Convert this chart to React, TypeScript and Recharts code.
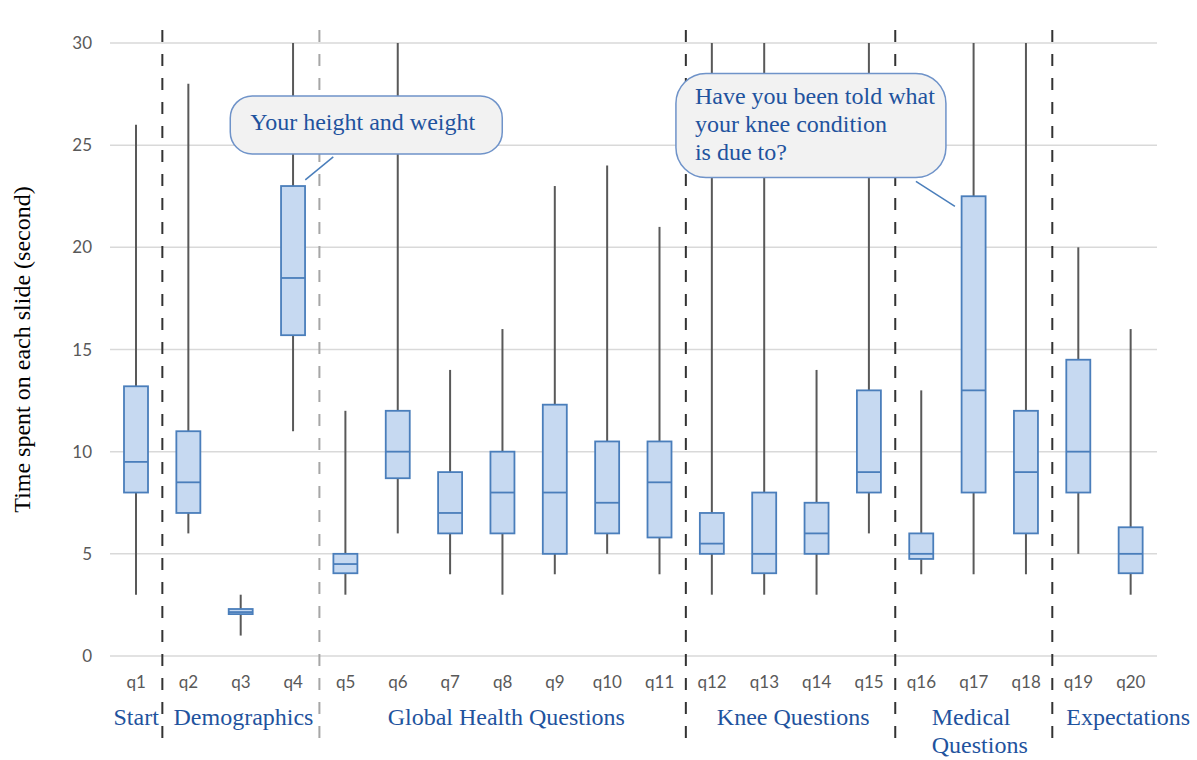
import React from 'react';
import { ComposedChart, Bar, XAxis, YAxis, CartesianGrid, ReferenceLine, ReferenceDot } from 'recharts';

const questions = ['q1','q2','q3','q4','q5','q6','q7','q8','q9','q10','q11','q12','q13','q14','q15','q16','q17','q18','q19','q20'];
const mins    = [3, 6, 1, 11, 3, 6, 4, 3, 4, 5, 4, 3, 3, 3, 6, 4, 4, 4, 5, 3];
const q1s     = [8, 7, 2.05, 15.7, 4.05, 8.7, 6, 6, 5, 6, 5.8, 5, 4.05, 5, 8, 4.75, 8, 6, 8, 4.05];
const medians = [9.5, 8.5, 2.15, 18.5, 4.5, 10, 7, 8, 8, 7.5, 8.5, 5.5, 5, 6, 9, 5, 13, 9, 10, 5];
const q3s     = [13.2, 11, 2.3, 23, 5, 12, 9, 10, 12.3, 10.5, 10.5, 7, 8, 7.5, 13, 6, 22.5, 12, 14.5, 6.3];
const maxs    = [26, 28, 3, 30, 12, 30, 14, 16, 23, 24, 21, 30, 30, 14, 30, 13, 30, 30, 20, 16];

const yTicks = [0, 5, 10, 15, 20, 25, 30];
const separators = [1.5, 4.5, 11.5, 15.5, 18.5];
const separatorColors = ['#333333', '#a6a6a6', '#333333', '#333333', '#333333'];
const groupLabels = ['Start', 'Demographics', 'Global Health Questions', 'Knee Questions', 'Medical Questions', 'Expectations'];
const groupCenters = [1, 3.05, 8.07, 13.55, 17, 19.95];

const data = questions.map((q, i) => ({
  x: i + 1,
  name: q,
  min: mins[i],
  q1: q1s[i],
  median: medians[i],
  q3: q3s[i],
  max: maxs[i],
}));

const BLUE_TEXT = '#1f539e';
const BOX_STROKE = '#4a7ebb';
const BOX_FILL = '#c6d9f1';
const WHISKER = '#595959';
const SERIF = '"Liberation Serif", "DejaVu Serif", serif';
const SANS = 'Lato, "Open Sans", sans-serif';
const SERIF_SIZE = 24;

const BoxShape = (props: any) => {
  const { x, y, width, height, payload } = props;
  const top = Math.min(y, y + height);
  const h = Math.abs(height);
  const span = payload.max - payload.min;
  const py = (v: number) => top + (h * (payload.max - v)) / span;
  const cx = x + width / 2;
  return (
    <g>
      <line x1={cx} x2={cx} y1={py(payload.max)} y2={py(payload.q3)} stroke={WHISKER} strokeWidth={2} />
      <line x1={cx} x2={cx} y1={py(payload.q1)} y2={py(payload.min)} stroke={WHISKER} strokeWidth={2} />
      <rect x={x} y={py(payload.q3)} width={width} height={py(payload.q1) - py(payload.q3)} fill={BOX_FILL} stroke={BOX_STROKE} strokeWidth={1.8} />
      <line x1={x} x2={x + width} y1={py(payload.median)} y2={py(payload.median)} stroke={BOX_STROKE} strokeWidth={1.8} />
    </g>
  );
};

const SeparatorShape = (color: string) => (props: any) => {
  const { x1, y1, y2 } = props;
  const top = Math.min(y1, y2);
  const bottom = Math.max(y1, y2);
  return (
    <line x1={x1} x2={x1} y1={top - 13} y2={bottom + 89} stroke={color} strokeWidth={2} strokeDasharray="12 12" />
  );
};

const GroupTick = (props: any) => {
  const { x, y, index } = props;
  const label = groupLabels[index];
  if (label === 'Medical Questions') {
    return (
      <text x={x - 42} y={y + 29} textAnchor="start" fill={BLUE_TEXT} fontFamily={SERIF} fontSize={SERIF_SIZE}>
        <tspan x={x - 42} y={y + 29}>Medical</tspan>
        <tspan x={x - 42} y={y + 57}>Questions</tspan>
      </text>
    );
  }
  return (
    <text x={x} y={y + 29} textAnchor="middle" fill={BLUE_TEXT} fontFamily={SERIF} fontSize={SERIF_SIZE}>
      {label}
    </text>
  );
};

const Callout1 = (props: any) => {
  const { cx, cy } = props;
  return (
    <g>
      <line x1={cx} y1={cy} x2={cx + 28} y2={cy - 23} stroke={BOX_STROKE} strokeWidth={1.5} />
      <rect x={cx - 75} y={cy - 84} width={272} height={58} rx={22} ry={22} fill="#f2f2f2" stroke="#6f93c9" strokeWidth={1.5} />
      <text x={cx - 55} y={cy - 50} fill={BLUE_TEXT} fontFamily={SERIF} fontSize={SERIF_SIZE}>Your height and weight</text>
    </g>
  );
};

const Callout2 = (props: any) => {
  const { cx, cy } = props;
  return (
    <g>
      <line x1={cx} y1={cy} x2={cx - 39} y2={cy - 25} stroke={BOX_STROKE} strokeWidth={1.5} />
      <rect x={cx - 279} y={cy - 133} width={270} height={104} rx={30} ry={30} fill="#f2f2f2" stroke="#6f93c9" strokeWidth={1.5} />
      <text fill={BLUE_TEXT} fontFamily={SERIF} fontSize={SERIF_SIZE}>
        <tspan x={cx - 260} y={cy - 102}>Have you been told what</tspan>
        <tspan x={cx - 260} y={cy - 74}>your knee condition</tspan>
        <tspan x={cx - 260} y={cy - 46}>is due to?</tspan>
      </text>
    </g>
  );
};

const YLabel = (props: any) => {
  const vb = props.viewBox || {};
  const cy = (vb.y || 43) + (vb.height || 613) / 2;
  return (
    <text x={30} y={cy} transform={`rotate(-90 30 ${cy})`} textAnchor="middle" fill="#000" fontFamily={SERIF} fontSize={SERIF_SIZE}>
      Time spent on each slide (second)
    </text>
  );
};

export default function App() {
  return (
    <div style={{ position: 'absolute', left: 0, top: 0, width: 1197, height: 760, background: '#fff' }}>
      <ComposedChart width={1197} height={760} data={data} margin={{ top: 43, right: 40, bottom: 0, left: 0 }}>
        <CartesianGrid horizontal vertical={false} stroke="#d9d9d9" strokeWidth={1.5} />
        <XAxis
          dataKey="x"
          type="number"
          domain={[0.5, 20.5]}
          ticks={data.map(d => d.x)}
          interval={0}
          tickFormatter={(v: number) => questions[v - 1]}
          axisLine={false}
          tickLine={false}
          tickSize={0}
          tickMargin={20}
          height={40}
          tick={{ fill: '#595959', fontFamily: SANS, fontSize: 17 }}
        />
        <XAxis
          xAxisId="group"
          dataKey="x"
          type="number"
          domain={[0.5, 20.5]}
          ticks={groupCenters}
          interval={0}
          axisLine={false}
          tickLine={false}
          tickSize={0}
          tickMargin={0}
          height={64}
          tick={<GroupTick />}
        />
        <YAxis
          type="number"
          domain={[0, 30]}
          ticks={yTicks}
          interval={0}
          axisLine={false}
          tickLine={false}
          tickSize={0}
          tickMargin={18}
          width={110}
          tick={{ fill: '#595959', fontFamily: SANS, fontSize: 17 }}
          label={<YLabel />}
        />
        <Bar dataKey={(d: any) => [d.min, d.max]} barSize={24} shape={<BoxShape />} isAnimationActive={false} />
        {separators.map((s, i) => (
          <ReferenceLine key={s} x={s} shape={SeparatorShape(separatorColors[i])} />
        ))}
        <ReferenceDot x={4.23} y={23.3} r={0} shape={<Callout1 />} />
        <ReferenceDot x={16.64} y={22} r={0} shape={<Callout2 />} />
      </ComposedChart>
    </div>
  );
}
